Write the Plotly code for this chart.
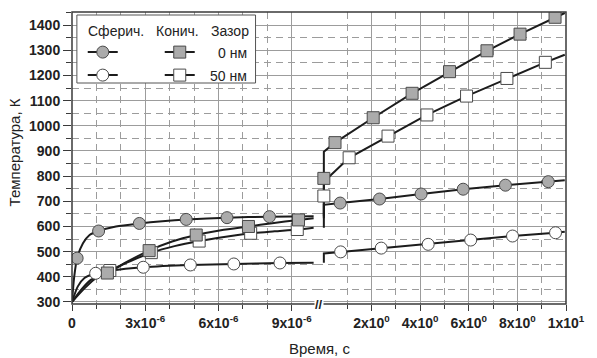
import plotly.graph_objects as go

# ---------------- data ----------------
# Left segment: time in seconds (microsecond scale)
sph0_left_t = [0, 0.09e-6, 0.21e-6, 0.45e-6, 0.72e-6, 1.09e-6, 1.8e-6, 2.76e-6, 3.7e-6, 4.68e-6, 6.35e-6, 8.09e-6, 9.9e-6]
sph0_left_T = [300, 400, 474, 533, 566, 582, 600, 612, 621, 628, 635, 639, 641]
sph0_left_mt = [0.21e-6, 1.09e-6, 2.76e-6, 4.68e-6, 6.35e-6, 8.09e-6]
sph0_left_mT = [474, 582, 612, 628, 635, 639]

sph50_left_t = [0, 0.24e-6, 0.51e-6, 0.97e-6, 1.6e-6, 2.92e-6, 4.85e-6, 6.63e-6, 8.52e-6, 9.9e-6]
sph50_left_T = [300, 362, 395, 414, 425, 438, 447, 451, 455, 456]
sph50_left_mt = [0.97e-6, 2.92e-6, 4.85e-6, 6.63e-6, 8.52e-6]
sph50_left_mT = [414, 438, 447, 451, 455]

con0_left_t = [0, 0.51e-6, 1.04e-6, 1.45e-6, 2.3e-6, 3.16e-6, 4.1e-6, 5.09e-6, 6.1e-6, 7.23e-6, 8.2e-6, 9.28e-6, 9.9e-6]
con0_left_T = [300, 354, 400, 415, 462, 504, 540, 566, 585, 600, 613, 626, 633]
con0_left_mt = [1.45e-6, 3.16e-6, 5.09e-6, 7.23e-6, 9.28e-6]
con0_left_mT = [415, 504, 566, 600, 626]

con50_left_t = [0, 0.37e-6, 0.77e-6, 1.55e-6, 2.4e-6, 3.25e-6, 4.2e-6, 5.21e-6, 6.3e-6, 7.32e-6, 8.3e-6, 9.23e-6, 9.9e-6]
con50_left_T = [300, 348, 388, 425, 463, 496, 522, 542, 559, 573, 581, 588, 595]
con50_left_mt = [1.55e-6, 3.25e-6, 5.21e-6, 7.32e-6, 9.23e-6]
con50_left_mT = [425, 496, 542, 573, 588]

# Right segment: time in seconds
sph0_right_t = [0.04, 0.04, 0.71, 2.33, 4.04, 5.77, 7.51, 9.27, 9.95]
sph0_right_T = [641, 686, 693, 709, 729, 748, 764, 778, 784]
sph0_right_mt = [0.71, 2.33, 4.04, 5.77, 7.51, 9.27]
sph0_right_mT = [693, 709, 729, 748, 764, 778]

sph50_right_t = [0.04, 0.04, 0.73, 2.4, 4.33, 6.08, 7.8, 9.57, 9.95]
sph50_right_T = [456, 493, 499, 514, 529, 546, 562, 575, 579]
sph50_right_mt = [0.73, 2.4, 4.33, 6.08, 7.8, 9.57]
sph50_right_mT = [499, 514, 529, 546, 562, 575]

con0_right_t = [0.04, 0.04, 0.5, 2.07, 3.67, 5.21, 6.75, 8.11, 9.55, 9.95]
con0_right_T = [633, 897, 933, 1032, 1129, 1215, 1298, 1364, 1431, 1448]
con0_right_mt = [0.04, 0.5, 2.07, 3.67, 5.21, 6.75, 8.11, 9.55]
con0_right_mT = [791, 933, 1032, 1129, 1215, 1298, 1364, 1431]

con50_right_t = [0.04, 0.04, 1.08, 2.68, 4.28, 5.91, 7.57, 9.15, 9.95]
con50_right_T = [595, 778, 873, 959, 1043, 1118, 1188, 1252, 1282]
con50_right_mt = [0.04, 1.08, 2.68, 4.28, 5.91, 7.57, 9.15]
con50_right_mT = [721, 873, 959, 1043, 1118, 1188, 1252]

left_tickvals = [0, 3e-6, 6e-6, 9e-6]
left_ticktext = ["0", "3x10<sup>-6</sup>", "6x10<sup>-6</sup>", "9x10<sup>-6</sup>"]
left_minorvals = [1e-6, 2e-6, 4e-6, 5e-6, 7e-6, 8e-6]
right_tickvals = [2, 4, 6, 8, 10]
right_ticktext = ["2x10<sup>0</sup>", "4x10<sup>0</sup>", "6x10<sup>0</sup>", "8x10<sup>0</sup>", "1x10<sup>1</sup>"]
right_minorvals = [1, 3, 5, 7, 9]

header_labels = ["Сферич.", "Конич.", "Зазор"]
gap_labels = ["0 нм", "50 нм"]
x_title = "Время, с"
y_title = "Температура, К"

# ---------------- styles ----------------
LINE = dict(color="#1c1c1c", width=2)
GRAY = "#ababab"
EDGE = "#4a4a4a"
GRID = "#9c9c9c"
AX = "#3a3a3a"
FONT = "Liberation Sans, Arial, sans-serif"

styles = {
    "sph0": dict(symbol="circle", color=GRAY),
    "sph50": dict(symbol="circle", color="white"),
    "con0": dict(symbol="square", color=GRAY),
    "con50": dict(symbol="square", color="white"),
}

series = {
    "sph0": (sph0_left_t, sph0_left_T, sph0_left_mt, sph0_left_mT, sph0_right_t, sph0_right_T, sph0_right_mt, sph0_right_mT),
    "sph50": (sph50_left_t, sph50_left_T, sph50_left_mt, sph50_left_mT, sph50_right_t, sph50_right_T, sph50_right_mt, sph50_right_mT),
    "con0": (con0_left_t, con0_left_T, con0_left_mt, con0_left_mT, con0_right_t, con0_right_T, con0_right_mt, con0_right_mT),
    "con50": (con50_left_t, con50_left_T, con50_left_mt, con50_left_mT, con50_right_t, con50_right_T, con50_right_mt, con50_right_mT),
}

fig = go.Figure()

# lines
for key in ["sph50", "sph0", "con50", "con0"]:
    lt, lT, lmt, lmT, rt, rT, rmt, rmT = series[key]
    fig.add_trace(go.Scatter(x=lt, y=lT, mode="lines", line=dict(LINE, shape="spline", smoothing=0.7),
                             xaxis="x", yaxis="y", showlegend=False, hoverinfo="skip"))
    fig.add_trace(go.Scatter(x=rt, y=rT, mode="lines", line=LINE,
                             xaxis="x2", yaxis="y2", showlegend=False, hoverinfo="skip"))

# markers
for key in ["sph50", "sph0", "con50", "con0"]:
    lt, lT, lmt, lmT, rt, rT, rmt, rmT = series[key]
    st = styles[key]
    mk = dict(symbol=st["symbol"], size=12, color=st["color"], line=dict(color=EDGE, width=1))
    fig.add_trace(go.Scatter(x=lmt, y=lmT, mode="markers", marker=mk, xaxis="x", yaxis="y",
                             showlegend=False))
    fig.add_trace(go.Scatter(x=rmt, y=rmT, mode="markers", marker=mk, xaxis="x2", yaxis="y2",
                             showlegend=False))

# legend-only entries
for key, lg in [("sph0", "legend"), ("con0", "legend"), ("sph50", "legend2"), ("con50", "legend2")]:
    st = styles[key]
    fig.add_trace(go.Scatter(x=[None], y=[None], mode="lines+markers", name="",
                             line=dict(color="#1c1c1c", width=2),
                             marker=dict(symbol=st["symbol"], size=12, color=st["color"],
                                         line=dict(color=EDGE, width=1)),
                             legend=lg, showlegend=True, xaxis="x", yaxis="y"))

L, R, T, B = 72, 19, 12, 54
W, H = 597, 358
pw, ph = W - L - R, H - T - B


def px(x):
    return (x - L) / pw


def py(y):
    return (H - B - y) / ph


split = px(322)
tickfont = dict(family=FONT, size=14, color="#222", weight="bold")

fig.update_layout(
    width=W, height=H,
    margin=dict(l=L, r=R, t=T, b=B, pad=0),
    paper_bgcolor="white", plot_bgcolor="white",
    font=dict(family=FONT, color="#222"),
    xaxis=dict(domain=[0, split], range=[0, 1e-5], anchor="y",
               tickmode="array", tickvals=left_tickvals, ticktext=left_ticktext,
               ticks="outside", ticklen=6, tickwidth=1, tickcolor=AX,
               showgrid=True, gridcolor=GRID, gridwidth=1, zeroline=False, showline=False,
               tickfont=tickfont,
               minor=dict(tickmode="array", tickvals=left_minorvals, ticks="outside", ticklen=4,
                          tickcolor=AX, showgrid=True, gridcolor=GRID, griddash="7px,5px")),
    xaxis2=dict(domain=[split, 1], range=[-0.28, 10], anchor="y2",
                tickmode="array", tickvals=right_tickvals, ticktext=right_ticktext,
                ticks="outside", ticklen=6, tickwidth=1, tickcolor=AX,
                showgrid=True, gridcolor=GRID, gridwidth=1, zeroline=False, showline=False,
                tickfont=tickfont,
                minor=dict(tickmode="array", tickvals=right_minorvals, ticks="outside", ticklen=4,
                           tickcolor=AX, showgrid=True, gridcolor=GRID, griddash="7px,5px")),
    yaxis=dict(domain=[0, 1], range=[292, 1452], anchor="x",
               tickmode="linear", tick0=0, dtick=100,
               ticks="outside", ticklen=8, tickcolor=AX,
               showgrid=True, gridcolor=GRID, zeroline=False, showline=False,
               tickfont=tickfont,
               minor=dict(dtick=50, tick0=0, ticks="outside", ticklen=5, tickcolor=AX,
                          showgrid=True, gridcolor=GRID, griddash="7px,5px")),
    yaxis2=dict(domain=[0, 1], range=[292, 1452], anchor="x2", matches="y",
                tickmode="linear", tick0=0, dtick=100, showticklabels=False, ticks="",
                showgrid=True, gridcolor=GRID, zeroline=False, showline=False,
                minor=dict(dtick=50, tick0=0, showgrid=True, gridcolor=GRID, griddash="7px,5px")),
    legend=dict(orientation="h", x=px(83), y=py(52.5), xanchor="left", yanchor="middle",
                entrywidth=32, bgcolor="rgba(0,0,0,0)", borderwidth=0,
                font=dict(family=FONT, size=14), traceorder="normal"),
    legend2=dict(orientation="h", x=px(83), y=py(75.5), xanchor="left", yanchor="middle",
                 entrywidth=32, bgcolor="rgba(0,0,0,0)", borderwidth=0,
                 font=dict(family=FONT, size=14), traceorder="normal"),
    showlegend=True,
)

shapes = [
    # plot frame
    dict(type="rect", xref="paper", yref="paper", x0=0, x1=1, y0=0, y1=1,
         line=dict(color=AX, width=1.5), fillcolor="rgba(0,0,0,0)", layer="above"),
    # legend box
    dict(type="rect", xref="paper", yref="paper", x0=px(77), x1=px(260), y0=py(83), y1=py(15),
         line=dict(color="#555", width=1), fillcolor="white", layer="above"),
]
fig.update_layout(shapes=shapes)

lgfont = dict(family=FONT, size=14, color="#222")
ann = [
    dict(text=header_labels[0], x=px(86), y=py(31), xanchor="left", yanchor="middle"),
    dict(text=header_labels[1], x=px(156), y=py(31), xanchor="left", yanchor="middle"),
    dict(text=header_labels[2], x=px(255), y=py(31), xanchor="right", yanchor="middle"),
    dict(text=gap_labels[0], x=px(253), y=py(53), xanchor="right", yanchor="middle"),
    dict(text=gap_labels[1], x=px(253), y=py(76), xanchor="right", yanchor="middle"),
]
annotations = []
for a in ann:
    a.update(xref="paper", yref="paper", showarrow=False, font=lgfont)
    annotations.append(a)

annotations.append(dict(text=x_title, xref="paper", yref="paper", x=px(325), y=py(348),
                        xanchor="center", yanchor="middle", showarrow=False,
                        font=dict(family=FONT, size=15, color="#222")))
annotations.append(dict(text=y_title, xref="paper", yref="paper", x=px(13), y=py(152),
                        xanchor="center", yanchor="middle", showarrow=False, textangle=-90,
                        font=dict(family=FONT, size=15, color="#222")))
# axis break mark
annotations.append(dict(text="<b>//</b>", xref="paper", yref="paper", x=px(325), y=0,
                        xanchor="center", yanchor="middle", showarrow=False, bgcolor="white",
                        borderpad=0, font=dict(family=FONT, size=13, color="#222")))
fig.update_layout(annotations=annotations)

fig.write_html("out.html")
